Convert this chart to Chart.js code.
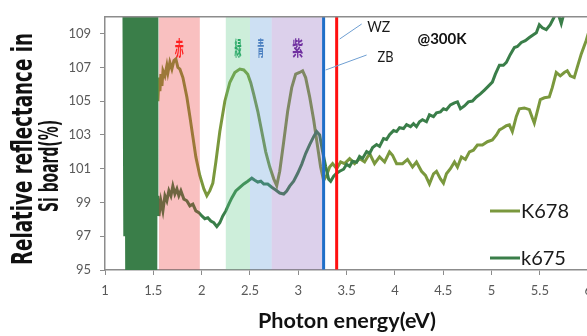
<!DOCTYPE html>
<html><head><meta charset="utf-8">
<script src="https://cdn.jsdelivr.net/npm/chart.js@4"></script>
<style>
html,body{margin:0;padding:0;overflow:hidden;background:#fff;width:587px;height:336px}
#wrap{position:absolute;left:0;top:0;width:600px;height:336px}
</style>
</head><body><div id="wrap"><canvas id="c" width="600" height="336"></canvas></div>
<script>
// ---------------- data ----------------
const xTickValues = [1, 1.5, 2, 2.5, 3, 3.5, 4, 4.5, 5, 5.5, 6];
const yTickValues = [95, 97, 99, 101, 103, 105, 107, 109];
const seriesNames = ["K678", "k675"];

// [photon energy (eV), relative reflectance (%)]
const k678 = [
 [1.537,106.1],[1.547,105.0],[1.558,106.4],[1.568,105.6],[1.579,106.6],[1.589,105.9],[1.600,106.8],
 [1.620,106.5],[1.640,107.1],[1.651,106.7],[1.671,107.3],[1.692,106.9],[1.713,107.4],[1.733,107.5],
 [1.754,107.0],[1.775,106.9],[1.806,106.4],[1.847,105.25],[1.878,104.1],[1.909,102.9],[1.940,101.7],
 [1.981,100.6],[2.023,99.8],[2.054,99.4],[2.085,99.7],[2.116,100.15],[2.147,101.4],[2.188,103.2],
 [2.240,105.0],[2.291,106.1],[2.343,106.7],[2.395,106.9],[2.436,106.85],[2.477,106.6],[2.508,106.1],
 [2.539,105.4],[2.581,104.4],[2.622,103.2],[2.663,102.0],[2.705,101.1],[2.746,100.4],[2.777,100.0],
 [2.808,100.85],[2.849,102.6],[2.890,104.4],[2.932,105.8],[2.973,106.6],[3.014,106.7],[3.045,106.8],
 [3.076,106.4],[3.118,105.25],[3.159,103.9],[3.200,102.3],[3.231,101.1],[3.262,100.3],[3.293,100.6],
 [3.324,101.1],[3.355,101.3],[3.397,101.0],[3.438,101.4],[3.479,101.3],[3.531,101.6],[3.583,101.3],
 [3.634,101.6],[3.686,101.4],[3.738,101.9],[3.789,101.3],[3.841,101.7],[3.893,101.4],[3.944,102.0],
 [3.975,101.8],[4.017,101.3],[4.079,101.3],[4.130,101.55],[4.182,101.1],[4.223,101.4],[4.275,100.85],
 [4.316,100.6],[4.357,100.1],[4.399,100.7],[4.430,100.85],[4.471,100.4],[4.502,100.15],[4.533,100.7],
 [4.574,101.0],[4.616,101.4],[4.647,101.1],[4.688,101.7],[4.729,101.55],[4.771,102.0],[4.812,102.1],
 [4.853,102.4],[4.905,102.4],[4.957,102.6],[5.008,102.7],[5.050,103.0],[5.081,103.3],[5.112,103.4],
 [5.153,103.55],[5.184,103.6],[5.215,103.2],[5.256,104.1],[5.287,104.55],[5.339,104.6],[5.391,104.5],
 [5.422,104.0],[5.442,103.7],[5.473,104.4],[5.504,105.1],[5.546,105.2],[5.597,105.25],[5.628,105.8],
 [5.669,106.7],[5.711,106.5],[5.752,106.7],[5.783,106.8],[5.814,106.5],[5.855,106.4],[5.886,107.0],
 [5.928,107.8],[5.979,108.6],[6.010,109.2]
];

const k675 = [
 [1.195,112],[1.205,97],[1.215,112],[1.225,94],[1.235,112],[1.245,93],[1.255,112],[1.265,93],
 [1.275,112],[1.285,93],[1.295,112],[1.305,93],[1.315,112],[1.325,93],[1.335,112],[1.345,93],
 [1.355,112],[1.365,93],[1.375,112],[1.385,93],[1.395,112],[1.405,93],[1.415,112],[1.425,93],
 [1.435,112],[1.445,93],[1.455,112],[1.465,93],[1.475,112],[1.485,93],[1.495,112],[1.505,93],
 [1.515,112],[1.525,93],[1.532,112],
 [1.537,98.8],[1.547,99.4],[1.558,98.2],[1.578,99.1],[1.599,98.5],[1.620,99.4],[1.640,99.1],
 [1.661,99.7],[1.682,99.4],[1.702,99.97],[1.723,99.5],[1.744,99.8],[1.764,99.4],[1.785,99.7],
 [1.816,99.2],[1.847,99.1],[1.878,98.8],[1.909,98.9],[1.940,98.5],[1.971,98.4],[2.002,98.2],
 [2.033,98.04],[2.064,98.1],[2.095,97.9],[2.126,97.8],[2.157,97.57],[2.188,97.8],[2.219,98.2],
 [2.250,98.5],[2.281,98.9],[2.312,99.27],[2.353,99.68],[2.395,99.9],[2.436,100.1],[2.477,100.26],
 [2.519,100.44],[2.550,100.32],[2.581,100.21],[2.612,100.26],[2.643,100.09],[2.684,100.09],[2.725,99.9],
 [2.767,99.74],[2.808,99.56],[2.849,99.5],[2.880,99.68],[2.911,99.97],[2.952,100.26],[2.994,100.73],
 [3.035,101.26],[3.076,101.9],[3.118,102.43],[3.159,102.9],[3.190,103.2],[3.221,103.0],[3.252,102.0],
 [3.283,101.14],[3.314,100.38],[3.335,100.26],[3.366,100.56],[3.397,100.73],[3.428,100.85],[3.469,100.97],
 [3.500,101.26],[3.531,101.14],[3.562,101.44],[3.603,101.38],[3.634,101.73],[3.665,101.61],[3.707,102.02],
 [3.738,101.91],[3.769,102.26],[3.810,102.43],[3.841,102.32],[3.882,102.79],[3.913,102.73],[3.944,103.02],
 [3.986,103.26],[4.017,103.2],[4.048,103.43],[4.089,103.38],[4.120,103.61],[4.161,103.49],[4.192,103.67],
 [4.223,103.49],[4.254,103.78],[4.285,103.9],[4.326,103.78],[4.357,104.19],[4.399,104.08],[4.430,104.31],
 [4.471,104.37],[4.502,104.55],[4.533,104.49],[4.574,104.78],[4.616,104.9],[4.647,104.96],[4.678,104.55],
 [4.719,104.72],[4.760,104.96],[4.802,105.01],[4.843,105.25],[4.884,105.43],[4.926,105.66],[4.967,105.89],
 [5.008,106.13],[5.039,106.6],[5.081,107.13],[5.122,107.13],[5.153,107.3],[5.194,107.77],[5.236,108.18],
 [5.267,108.24],[5.308,108.48],[5.349,108.59],[5.391,108.77],[5.432,108.94],[5.463,109.06],[5.494,109.53],
 [5.525,109.35],[5.566,109.24],[5.607,109.53],[5.649,110.0],[5.680,110.35],[5.721,109.6],[5.762,110.5],
 [5.825,110.8],[5.900,111.2],[6.010,111.5]
];

// colour bands (eV) and their labels
const bandStart  = [1.558, 2.25, 2.50, 2.725];
const bandEnd    = [1.981, 2.50, 2.725, 3.262];
const bandLabels = ["赤", "緑", "青", "紫"];
// band-gap markers
const edgeNames  = ["ZB", "WZ"];
const edgeEnergy = [3.262, 3.397];
const tempLabel  = "@300K";
const xTitle = "Photon energy(eV)";
const yTitle = ["Relative reflectance in", "Si board(%)"];

// ---------------- styles ----------------
const lineColors = ["#7a983d", "#3a7e49"];
const bandFill   = ["#eb2d2d", "#58c684", "#5898d7", "#8a62bc"];
const bandText   = ["#ff1f1f", "#27a865", "#4a7fc0", "#7030a0"];
const bandTextW  = [9, 7, 7, 11];
const edgeColor  = ["#1f6fc8", "#ff1010"];

function fitText(ctx, text, cx, by, font, w, color) {
  ctx.save();
  ctx.font = font;
  const s = w / ctx.measureText(text).width;
  ctx.translate(cx, by);
  ctx.scale(s, 1);
  ctx.textAlign = "center";
  ctx.textBaseline = "alphabetic";
  ctx.fillStyle = color;
  ctx.fillText(text, 0, 0);
  ctx.restore();
}
function fitTextV(ctx, text, bx, cy, font, len, color) {
  ctx.save();
  ctx.font = font;
  const s = len / ctx.measureText(text).width;
  ctx.translate(bx, cy);
  ctx.rotate(-Math.PI / 2);
  ctx.scale(s, 1);
  ctx.textAlign = "center";
  ctx.textBaseline = "alphabetic";
  ctx.fillStyle = color;
  ctx.fillText(text, 0, 0);
  ctx.restore();
}

const overlay = {
  id: "overlay",
  afterDatasetsDraw(chart) {
    const { ctx, chartArea: a, scales: { x, y } } = chart;
    ctx.save();
    ctx.beginPath();
    ctx.rect(a.left, a.top, a.right - a.left, a.bottom - a.top - 0.5);
    ctx.clip();
    ctx.globalAlpha = 0.3;
    bandStart.forEach((s, i) => {
      const x0 = x.getPixelForValue(s), x1 = x.getPixelForValue(bandEnd[i]);
      ctx.fillStyle = bandFill[i];
      ctx.fillRect(x0, a.top, x1 - x0, a.bottom - a.top);
    });
    ctx.globalAlpha = 1;
    edgeEnergy.forEach((e, i) => {
      const px = x.getPixelForValue(e);
      ctx.strokeStyle = edgeColor[i];
      ctx.lineWidth = 3;
      ctx.beginPath(); ctx.moveTo(px, a.top); ctx.lineTo(px, a.bottom); ctx.stroke();
    });
    ctx.restore();
    // top border
    ctx.save();
    ctx.strokeStyle = "#8c8c8c"; ctx.lineWidth = 1.5;
    ctx.beginPath(); ctx.moveTo(a.left, a.top); ctx.lineTo(a.right, a.top); ctx.stroke();
    ctx.restore();
  },
  afterDraw(chart) {
    const { ctx, chartArea: a, scales: { x, y } } = chart;
    // band labels
    bandLabels.forEach((t, i) => {
      const cx = x.getPixelForValue((bandStart[i] + bandEnd[i]) / 2);
      fitText(ctx, t, cx, 56, "bold 20px 'Noto Sans CJK JP'", bandTextW[i], bandText[i]);
    });
    // marker leader lines and labels
    const zb = x.getPixelForValue(edgeEnergy[0]), wz = x.getPixelForValue(edgeEnergy[1]);
    ctx.save();
    ctx.strokeStyle = "#6f9fd2"; ctx.lineWidth = 1;
    ctx.beginPath(); ctx.moveTo(wz + 3, 39); ctx.lineTo(wz + 25, 24); ctx.stroke();
    ctx.beginPath(); ctx.moveTo(zb + 2, 70); ctx.lineTo(zb + 43, 55); ctx.stroke();
    ctx.restore();
    fitText(ctx, edgeNames[1], wz + 42, 32, "16px Lato", 23, "#1a1a1a");
    fitText(ctx, edgeNames[0], zb + 62, 62, "16px Lato", 16, "#1a1a1a");
    fitText(ctx, tempLabel, 442, 44, "bold 16px Lato", 49, "#111");
    // legend
    const ly = [211, 258], lb = [218, 265];
    seriesNames.forEach((n, i) => {
      ctx.save();
      ctx.strokeStyle = lineColors[i]; ctx.lineWidth = 3;
      ctx.beginPath(); ctx.moveTo(490, ly[i]); ctx.lineTo(520, ly[i]); ctx.stroke();
      ctx.restore();
      ctx.save();
      ctx.font = "20px Lato"; ctx.fillStyle = "#1a1a1a";
      ctx.textAlign = "left"; ctx.textBaseline = "alphabetic";
      ctx.fillText(n, 521, lb[i]);
      ctx.restore();
    });
    // axis titles
    fitText(ctx, xTitle, 347, 328, "bold 21px Lato", 178, "#111");
    fitTextV(ctx, yTitle[0], 32, 149, "bold 28px 'DejaVu Sans'", 232, "#111");
    fitTextV(ctx, yTitle[1], 58, 166, "bold 27px 'DejaVu Sans'", 92, "#111");
  }
};

const chart = new Chart(document.getElementById("c"), {
  type: "line",
  data: {
    datasets: [
      { label: seriesNames[0], data: k678.map(p => ({ x: p[0], y: p[1] })),
        borderColor: lineColors[0], borderWidth: 3, pointRadius: 0, tension: 0, clip: 0, order: 1 },
      { label: seriesNames[1], data: k675.map(p => ({ x: p[0], y: p[1] })),
        borderColor: lineColors[1], borderWidth: 3, pointRadius: 0, tension: 0, clip: 0, order: 0 }
    ]
  },
  options: {
    responsive: false, animation: false, devicePixelRatio: 1,
    layout: { padding: { left: 0, right: 11, top: 14, bottom: 0 } },
    plugins: { legend: { display: false }, tooltip: { enabled: false } },
    scales: {
      x: {
        type: "linear", min: 1, max: 6,
        afterBuildTicks: s => { s.ticks = xTickValues.map(v => ({ value: v })); },
        afterFit: s => { s.height = 66; },
        grid: { display: true, drawOnChartArea: false, drawTicks: true, tickLength: 5, color: "#8c8c8c" },
        border: { display: true, color: "#8c8c8c", width: 1.5 },
        ticks: { color: "#595959", font: { family: "Lato", size: 13 }, padding: 8, maxRotation: 0, autoSkip: false,
                 callback: v => String(v) }
      },
      y: {
        type: "linear", min: 95, max: 110,
        afterBuildTicks: s => { s.ticks = yTickValues.map(v => ({ value: v })); },
        afterFit: s => { s.width = 105; },
        grid: { display: true, drawOnChartArea: false, drawTicks: true, tickLength: 5, color: "#8c8c8c" },
        border: { display: true, color: "#8c8c8c", width: 1.5 },
        ticks: { color: "#595959", font: { family: "Lato", size: 13 }, padding: 9, callback: v => String(v) }
      }
    }
  },
  plugins: [overlay]
});
</script>
</body></html>
